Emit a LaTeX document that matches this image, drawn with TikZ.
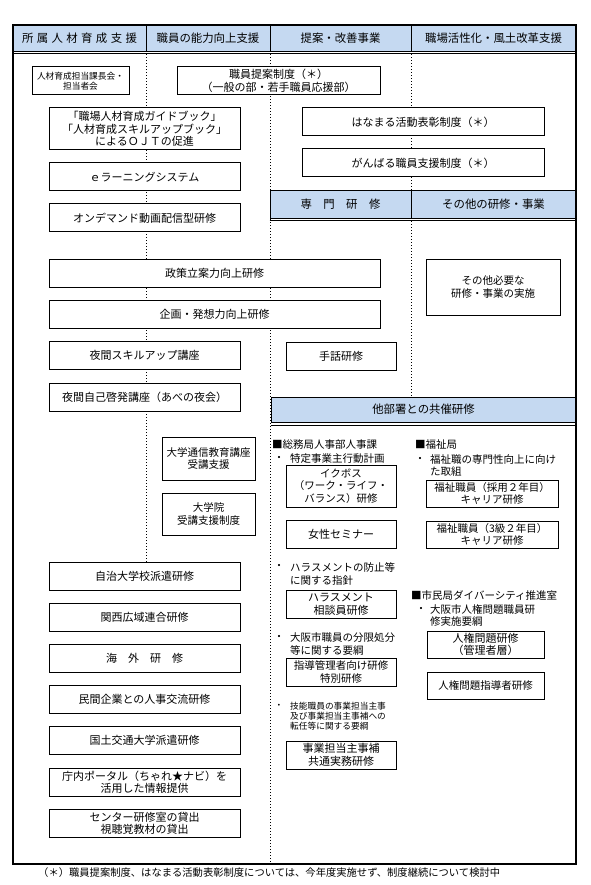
\documentclass[tikz,border=0pt]{standalone}
\usepackage{fontspec}
\setmainfont{Noto Sans CJK JP}
\usetikzlibrary{positioning,backgrounds}
\definecolor{headblue}{RGB}{197,217,241}
\newcommand{\ksp}{\hspace{3.4pt}}
\tikzset{%
  box/.style={draw,line width=1pt,fill=white,align=center,inner sep=0pt,
    minimum height=28pt,font=\fontsize{11}{12.5}\selectfont},
  wide/.style={box,minimum width=191pt},
  small/.style={box,font=\fontsize{10.5}{12.5}\selectfont},
  head/.style={draw,line width=0.8pt,fill=headblue,inner sep=0pt,
    minimum height=26pt,font=\fontsize{11.4}{13}\selectfont},
  guide/.style={line width=0.8pt,dash pattern=on 0.8pt off 2.2pt},
  note/.style={anchor=west,inner sep=0pt,align=left,font=\fontsize{10.5}{12.5}\selectfont},
  dot/.style={inner sep=0pt,font=\fontsize{10.5}{12.5}\selectfont}
}

\begin{document}
\begin{tikzpicture}[x=1pt,y=-1pt]
    \useasboundingbox (0,0) rectangle (590,885);
    \coordinate (fNW) at (13,25);
    \coordinate (fSE) at (576,864);

    % Column heads
    \node[head,minimum width=133pt] (hA) at (79.5,38) {所\ksp 属\ksp 人\ksp 材\ksp 育\ksp 成\ksp 支\ksp 援};
    \node[head,minimum width=124pt] (hB) at (208,38) {職員の能力向上支援};
    \node[head,minimum width=141pt] (hC) at (340.5,38) {提案・改善事業};
    \node[head,minimum width=165pt] (hD) at (493.5,38) {職場活性化・風土改革支援};
    \draw[line width=0.8pt] ([yshift=-2pt]hA.south west) -- ([yshift=-2pt]hD.south east);

    \node[head,minimum width=141pt,minimum height=28pt] (hE) at (340.5,204) {専　門　研　修};
    \node[head,minimum width=165pt,minimum height=28pt] (hF) at (493.5,204) {その他の研修・事業};
    \draw[line width=0.8pt] ([yshift=-2pt]hE.south west) -- ([yshift=-2pt]hF.south east);

    \node[head,minimum width=305pt,minimum height=25pt] (hG) at (423.5,409.5) {他部署との共催研修};
    \draw[line width=0.8pt] ([yshift=-2.5pt]hG.south west) -- ([yshift=-2.5pt]hG.south east);

    % Upper boxes
    \node[box,minimum width=97pt,font=\fontsize{8.7}{10.5}\selectfont] (kacho) at (80.5,81) {人材育成担当課長会・\\担当者会};
    \node[box,minimum width=203pt] (teian) at (278.5,81) {職員提案制度（＊）\\（一般の部・若手職員応援部）};

    \node[wide,minimum height=42pt] (ojt) at (144.5,129) {「職場人材育成ガイドブック」\\「人材育成スキルアップブック」\\によるＯＪＴの促進};
    \node[wide,below=12pt of ojt] (elearn) {ｅラーニングシステム};
    \node[wide,below=12pt of elearn] (ondemand) {オンデマンド動画配信型研修};

    \node[box,minimum width=242pt] (hanamaru) at (423,122) {はなまる活動表彰制度（＊）};
    \node[box,minimum width=242pt,below=12pt of hanamaru] (ganbaru) {がんばる職員支援制度（＊）};

    \node[box,minimum width=331pt] (seisaku) at (214.5,273) {政策立案力向上研修};
    \node[box,minimum width=331pt,below=12pt of seisaku] (kikaku) {企画・発想力向上研修};

    \node[wide] (skillup) at (144.5,355) {夜間スキルアップ講座};
    \node[wide,below=13pt of skillup] (abeno) {夜間自己啓発講座（あべの夜会）};

    \node[box,minimum width=110pt] (shuwa) at (341,356) {手話研修};
    \node[small,minimum width=134pt,minimum height=56pt] (sonota) at (493,287) {その他必要な\\研修・事業の実施};

    \node[small,minimum width=93pt,minimum height=43pt] (tsushin) at (208.5,458.5) {大学通信教育講座\\受講支援};
    \node[small,minimum width=93pt,minimum height=42pt,below=12pt of tsushin] (inshien) {大学院\\受講支援制度};

    % Left column list
    \node[wide] (jichi) at (144.5,576) {自治大学校派遣研修};
    \foreach \nm/\txt [remember=\nm as \prev (initially jichi)] in {kansai/関西広域連合研修, kaigai/海　外　研　修, minkan/民間企業との人事交流研修, kokudo/国土交通大学派遣研修, portal/{庁内ポータル（ちゃれ★ナビ）を\\活用した情報提供}, shisetsu/{センター研修室の貸出\\視聴覚教材の貸出}}
        \node[wide,font=\fontsize{11}{12}\selectfont,below=12.2pt of \prev] (\nm) {\txt};

    % Joint training: 総務局
    \node[note] (somu) at (272,445) {■総務局人事部人事課};
    \node[dot] (d1) at (279,459) {・};
    \node[note] (t1) at (290,459) {特定事業主行動計画};
    \node[small,minimum width=110pt,minimum height=42pt] (ikubosu) at (341,486) {イクボス\\（ワーク・ライフ・\\バランス）研修};
    \node[box,minimum width=110pt] (josei) at (341,534) {女性セミナー};

    \node[dot] (d2) at (279,567) {・};
    \node[note,font=\fontsize{10.5}{13.5}\selectfont] (t2) at (290,574) {ハラスメントの防止等\\に関する指針};
    \node[box,minimum width=110pt] (soudan) at (341,604) {ハラスメント\\相談員研修};

    \node[dot] (d3) at (279,638) {・};
    \node[note] (t3) at (290,644) {大阪市職員の分限処分\\等に関する要綱};
    \node[small,minimum width=110pt] (shidou) at (341,672) {指導管理者向け研修\\特別研修};

    \node[dot,font=\fontsize{8.7}{10}\selectfont] (d4) at (279,706) {・};
    \node[note,font=\fontsize{8.7}{10}\selectfont] (t4) at (290,716) {技能職員の事業担当主事\\及び事業担当主事補への\\転任等に関する要綱};
    \node[box,minimum width=110pt] (jimu) at (341,755) {事業担当主事補\\共通実務研修};

    % Joint training: 福祉局, 市民局
    \node[note] (fukushi) at (415,445) {■福祉局};
    \node[dot] (d5) at (420,460) {・};
    \node[note,font=\fontsize{10.5}{11.5}\selectfont] (t5) at (430,465.5) {福祉職の専門性向上に向け\\た取組};
    \node[small,minimum width=132pt,minimum height=27pt] (fuku1) at (492,493.5) {福祉職員（採用２年目）\\キャリア研修};
    \node[small,minimum width=132pt,minimum height=27pt] (fuku2) at (492,534.5) {福祉職員（3級２年目）\\キャリア研修};

    \node[note] (shimin) at (411,595) {■市民局ダイバーシティ推進室};
    \node[dot] (d6) at (421,610) {・};
    \node[note,font=\fontsize{10.5}{11.5}\selectfont] (t6) at (430,615.5) {大阪市人権問題職員研\\修実施要綱};
    \node[box,minimum width=117pt,minimum height=27pt] (jinken1) at (485.5,644.5) {人権問題研修\\（管理者層）};
    \node[small,minimum width=117pt,minimum height=27pt] (jinken2) at (485.5,685.5) {人権問題指導者研修};

    % Dotted column rules
    \begin{scope}[on background layer]
        \draw[guide] (hA.south east) -- (hA.south east |- jichi.north);
        \draw[guide] (hB.south east) -- (hB.south east |- fSE);
        \draw[guide] (hC.south east) -- (hC.south east |- hE.north) (hE.south east) -- (hE.south east |- hG.north);
    \end{scope}

    % Frame and footnote
    \draw[line width=1.2pt] (fNW) rectangle (fSE);
    \node[note,font=\fontsize{10.3}{12}\selectfont] (chu) at (38,873) {（＊）職員提案制度、はなまる活動表彰制度については、今年度実施せず、制度継続について検討中};

\end{tikzpicture}
\end{document}
